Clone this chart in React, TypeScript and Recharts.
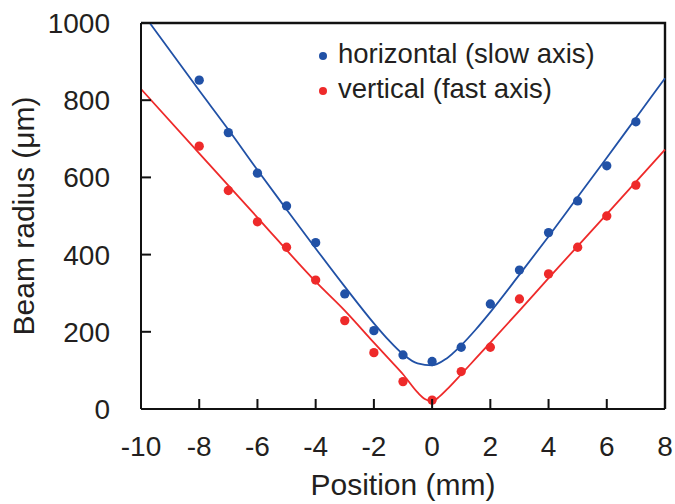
import React from 'react';
import {
  ComposedChart, Line, Scatter, XAxis, YAxis, ZAxis, Legend,
} from 'recharts';

const positions = [-8, -7, -6, -5, -4, -3, -2, -1, 0, 1, 2, 3, 4, 5, 6, 7];
const horizontalRadius = [852, 716, 611, 526, 431, 298, 203, 140, 123, 160, 272, 360, 457, 539, 630, 744];
const verticalRadius = [681, 566, 485, 419, 334, 229, 146, 71, 23, 97, 160, 285, 350, 419, 500, 580];

const fitPositionsH = [-9.7, -8, -7, -6, -5, -4, -3, -2, -1.5, -1, -0.5, 0, 0.5, 1, 1.5, 2, 3, 4, 5, 6, 7, 8];
const fitHorizontal = [1000, 825, 724, 619, 517, 416, 317, 222, 179, 142, 118, 113, 131, 165, 206, 251, 348, 447, 549, 651, 754, 857];

const fitPositionsV = [-10, -8, -6, -4, -3, -2, -1.5, -1, -0.5, -0.25, 0, 0.25, 0.5, 1, 1.5, 2, 3, 4, 6, 8];
const fitVertical = [829, 662, 496, 330, 255, 172, 131, 90, 43, 26, 20, 32, 50, 90, 131, 172, 255, 339, 505, 672];

const xTicks = [-10, -8, -6, -4, -2, 0, 2, 4, 6, 8];
const yTicks = [0, 200, 400, 600, 800, 1000];
const frameCorners = [{ x: -10, y: 1000 }, { x: 8, y: 1000 }, { x: 8, y: 0 }];

const seriesNames = ['horizontal (slow axis)', 'vertical (fast axis)'];
const BLUE = '#2151a6';
const RED = '#ee2a2a';
const INK = '#231f20';
const FRAME = '#111111';
const FONT = '"Liberation Sans", Arial, sans-serif';

const X_MARGIN = 27;
const Y_MARGIN = 31;
const TICK_LEN = 10;

const pointsH = positions.map((x, i) => ({ x, y: horizontalRadius[i] }));
const pointsV = positions.map((x, i) => ({ x, y: verticalRadius[i] }));
const fitH = fitPositionsH.map((x, i) => ({ x, y: fitHorizontal[i] }));
const fitV = fitPositionsV.map((x, i) => ({ x, y: fitVertical[i] }));

const XTick = (props: any) => {
  const { x, y, payload } = props;
  const axisY = y - X_MARGIN;
  return (
    <g>
      <rect x={x - 1} y={axisY - TICK_LEN} width={2} height={TICK_LEN} fill={FRAME} />
      <text x={x} y={y} dy="0.71em" textAnchor="middle" fontSize={28} fill={INK} fontFamily={FONT}>
        {payload.value}
      </text>
    </g>
  );
};

const YTick = (props: any) => {
  const { x, y, payload } = props;
  const axisX = x + Y_MARGIN;
  return (
    <g>
      <rect x={axisX} y={y - 1} width={TICK_LEN} height={2} fill={FRAME} />
      <text x={x} y={y} dy="0.355em" textAnchor="end" fontSize={28} fill={INK} fontFamily={FONT}>
        {payload.value}
      </text>
    </g>
  );
};

const LegendContent = () => (
  <div style={{ fontFamily: FONT, fontSize: 27.5, color: INK, lineHeight: '35px', whiteSpace: 'nowrap' }}>
    {seriesNames.map((name, i) => (
      <div key={name}>
        <span
          style={{
            display: 'inline-block',
            width: 8,
            height: 8,
            borderRadius: '50%',
            background: i === 0 ? BLUE : RED,
            verticalAlign: 'middle',
            marginRight: 11,
          }}
        />
        {name}
      </div>
    ))}
  </div>
);

export default function App() {
  return (
    <div style={{ position: 'absolute', left: 0, top: 0 }}>
      <ComposedChart width={675} height={504} margin={{ top: 23, right: 10, bottom: 0, left: 0 }}>
        <XAxis
          type="number"
          dataKey="x"
          domain={[-10, 8]}
          ticks={xTicks}
          height={95}
          tickSize={0}
          tickMargin={X_MARGIN}
          tick={<XTick />}
          tickLine={false}
          axisLine={{ stroke: FRAME, strokeWidth: 2 }}
          label={{ value: 'Position (mm)', position: 'insideBottom', offset: 9, style: { fontSize: 30, fill: INK, fontFamily: FONT } }}
        />
        <YAxis
          type="number"
          dataKey="y"
          domain={[0, 1000]}
          ticks={yTicks}
          width={141}
          tickSize={0}
          tickMargin={Y_MARGIN}
          tick={<YTick />}
          tickLine={false}
          axisLine={{ stroke: FRAME, strokeWidth: 2 }}
          label={{ value: 'Beam radius (μm)', angle: -90, position: 'insideLeft', offset: 23, style: { fontSize: 30, fill: INK, fontFamily: FONT, textAnchor: 'middle' } }}
        />
        <ZAxis range={[68, 68]} />
        <Line data={frameCorners} dataKey="y" type="linear" stroke={FRAME} strokeWidth={2.4} dot={false} isAnimationActive={false} legendType="none" />
        <Line data={fitH} dataKey="y" type="monotone" stroke={BLUE} strokeWidth={1.8} dot={false} isAnimationActive={false} legendType="none" />
        <Line data={fitV} dataKey="y" type="monotone" stroke={RED} strokeWidth={1.8} dot={false} isAnimationActive={false} legendType="none" />
        <Scatter name={seriesNames[0]} data={pointsH} fill={BLUE} isAnimationActive={false} />
        <Scatter name={seriesNames[1]} data={pointsV} fill={RED} isAnimationActive={false} />
        <Legend
          layout="vertical"
          align="center"
          verticalAlign="middle"
          content={<LegendContent />}
          wrapperStyle={{ position: 'absolute', left: 319, top: 36, width: 'auto', height: 'auto' }}
        />
      </ComposedChart>
    </div>
  );
}
